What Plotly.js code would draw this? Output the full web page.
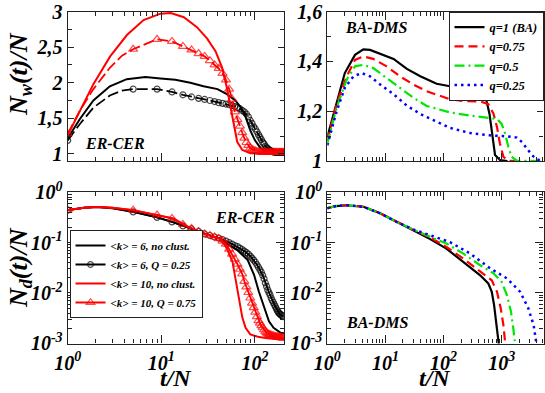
<!DOCTYPE html>
<html>
<head>
<meta charset="utf-8">
<script src="https://cdn.plot.ly/plotly-3.0.1.min.js"></script>
<style>
  html, body { margin: 0; padding: 0; background: #fff; }
  #grafico { width: 545px; height: 393px; }
</style>
</head>
<body>
<div id="grafico"></div>
<script>
// ---------------------------------------------------------------------
// DATOS (t/N en el eje x)
// ---------------------------------------------------------------------

// posiciones de los simbolos (circulos / triangulos) en ER-CER
const tMarcas = [1, 5, 9, 13, 17, 21, 25, 29, 33, 37, 41, 45, 49, 53, 57, 61, 65, 69, 73, 77,
  81, 85, 89, 93, 97, 101, 105, 109, 113, 117, 121, 125, 129, 133, 137, 141, 145, 149, 153, 157,
  161, 165, 169, 173, 177, 181, 185, 189, 193, 197, 201];

// --- Panel superior izquierdo: Nw(t)/N, ER-CER ---
const tNwSin6 = [1, 1.35, 1.88, 2.82, 4.27, 6.76, 9.77, 14.1, 20.4, 28.2, 39.8, 50.1, 61.7, 70.8, 79.4, 89.1, 100, 115, 129, 158, 204];
const nwSin6 = [1.22, 1.49, 1.75, 1.95, 2.05, 2.08, 2.06, 2.04, 2.0, 1.95, 1.91, 1.84, 1.75, 1.65, 1.52, 1.33, 1.19, 1.08, 1.03, 1.02, 1.02];

const tNwSin10 = [1, 1.88, 2.84, 4.29, 6.46, 9.77, 12.6, 17.4, 24.0, 30.9, 38.0, 44.7, 50.1, 55.0, 59.6, 64.6, 73.3, 89.1, 204];
const nwSin10 = [1.26, 1.98, 2.37, 2.67, 2.88, 2.97, 2.98, 2.92, 2.78, 2.62, 2.44, 2.21, 1.93, 1.65, 1.38, 1.17, 1.055, 1.01, 1.01];

const nwQ025 = [1.19, 1.91, 1.91, 1.87, 1.83, 1.80, 1.78, 1.765, 1.75, 1.735, 1.72, 1.71, 1.70, 1.69, 1.68, 1.665, 1.65, 1.635, 1.61, 1.59,
  1.56, 1.52, 1.47, 1.43, 1.38, 1.35, 1.31, 1.27, 1.235, 1.20, 1.165, 1.14, 1.11, 1.09, 1.075, 1.06, 1.05, 1.04, 1.033, 1.028,
  1.025, 1.022, 1.02, 1.02, 1.02, 1.02, 1.02, 1.02, 1.02, 1.02, 1.02];
const nwQ075 = [1.28, 2.47, 2.61, 2.58, 2.51, 2.46, 2.41, 2.37, 2.31, 2.25, 2.20, 2.13, 2.04, 1.91, 1.77, 1.59, 1.48, 1.39, 1.30, 1.22,
  1.16, 1.12, 1.08, 1.065, 1.05, 1.04, 1.035, 1.03, 1.028, 1.025, 1.02, 1.02, 1.02, 1.02, 1.02, 1.02, 1.02, 1.02, 1.02, 1.02,
  1.02, 1.02, 1.02, 1.02, 1.02, 1.02, 1.02, 1.02, 1.02, 1.02, 1.02];
// tramo inicial (entre t/N = 1 y 5) de las curvas con simbolos
const tIniNw = [1.35, 1.88, 2.82, 3.8];
const nwQ025Ini = [1.42, 1.65, 1.82, 1.89];
const nwQ075Ini = [1.61, 1.91, 2.21, 2.38];

// --- Panel superior derecho: Nw(t)/N, BA-DMS ---
const tBA = [1, 1.45, 2.0, 3.0, 4.17, 5.43, 8.13, 13.8, 23.4, 39.8, 75.9, 129, 219, 372, 484, 550, 617, 661, 708, 769, 933, 1259];
const nwBA = [1.096, 1.24, 1.353, 1.426, 1.448, 1.446, 1.43, 1.41, 1.37, 1.34, 1.31, 1.30, 1.294, 1.288, 1.274, 1.24, 1.19, 1.136, 1.07, 1.024, 1.004, 1.0];
const t075 = [1, 1.45, 2.16, 3.0, 4.17, 6.17, 10.5, 17.8, 30.2, 51.3, 81.3, 129, 219, 427, 589, 724, 832, 933, 1072, 1303, 2000];
const nw075 = [1.08, 1.23, 1.34, 1.406, 1.42, 1.41, 1.38, 1.34, 1.307, 1.28, 1.264, 1.248, 1.241, 1.239, 1.228, 1.19, 1.136, 1.07, 1.017, 1.001, 1.0];
const t05 = [1, 1.45, 2.16, 3.0, 4.17, 6.17, 10.5, 17.8, 30.2, 51.3, 81.3, 129, 288, 550, 832, 1000, 1148, 1303, 1479, 1820, 5000];
const nw05 = [1.07, 1.215, 1.327, 1.38, 1.386, 1.373, 1.333, 1.294, 1.254, 1.221, 1.208, 1.195, 1.182, 1.175, 1.169, 1.149, 1.11, 1.057, 1.017, 1.001, 1.0];
const t025 = [1, 1.45, 2.0, 2.82, 3.89, 5.43, 8.13, 13.8, 23.4, 39.8, 81.3, 129, 288, 631, 1230, 1820, 2239, 2692, 3311, 3981, 4898];
const nw025 = [1.063, 1.20, 1.294, 1.34, 1.353, 1.34, 1.307, 1.268, 1.222, 1.189, 1.155, 1.133, 1.112, 1.103, 1.099, 1.094, 1.076, 1.05, 1.024, 1.007, 1.001];

// --- Panel inferior izquierdo: Nd(t)/N, ER-CER ---
const tNdSin6 = [1, 1.5, 2.04, 3, 5, 9, 13.5, 18.8, 28.2, 42.7, 50.1, 64.6, 83.2, 97.7, 110, 126, 141, 158, 188, 204];
const ndSin6 = [0.44, 0.49, 0.51, 0.48, 0.407, 0.316, 0.251, 0.204, 0.151, 0.12, 0.0955, 0.0708, 0.0457, 0.0229, 0.0107, 0.00501, 0.00275, 0.00204, 0.00162, 0.00158];
const tNdSin10 = [1, 1.5, 2.04, 3, 5, 9, 13.5, 18.8, 28.2, 42.7, 50.1, 57.5, 61.7, 67.6, 73.3, 79.4, 89.1, 107, 135, 204];
const ndSin10 = [0.44, 0.49, 0.51, 0.49, 0.44, 0.351, 0.30, 0.21, 0.152, 0.12, 0.0767, 0.0417, 0.02, 0.00794, 0.00324, 0.00204, 0.00151, 0.00135, 0.00126, 0.0012];

const ndQ025 = [0.44, 0.407, 0.316, 0.257, 0.214, 0.186, 0.166, 0.148, 0.138, 0.129, 0.123, 0.115, 0.107, 0.1, 0.0933, 0.0871, 0.0832, 0.0776, 0.0724, 0.0676,
  0.0631, 0.0589, 0.0537, 0.049, 0.0447, 0.0407, 0.0363, 0.0324, 0.0288, 0.0257, 0.0224, 0.0191, 0.0158, 0.0135, 0.0115, 0.0102, 0.00912, 0.00794, 0.00708, 0.00646,
  0.00589, 0.00537, 0.0049, 0.00447, 0.00417, 0.00398, 0.0038, 0.00372, 0.00355, 0.00347, 0.00339];
const ndQ075 = [0.44, 0.44, 0.351, 0.302, 0.229, 0.191, 0.166, 0.148, 0.138, 0.129, 0.120, 0.107, 0.0933, 0.0741, 0.0589, 0.0468, 0.0372, 0.0295, 0.024, 0.017,
  0.0132, 0.0102, 0.00794, 0.00631, 0.00513, 0.00417, 0.00339, 0.00282, 0.00251, 0.00224, 0.00204, 0.00186, 0.0017, 0.00162, 0.00155, 0.00151, 0.00148, 0.00145, 0.00141, 0.0014,
  0.00138, 0.00136, 0.00135, 0.00135, 0.00133, 0.00132, 0.00132, 0.0013, 0.0013, 0.00129, 0.00129];
const tIniNd = [1.5, 2.04, 3];
const ndQ025Ini = [0.49, 0.51, 0.48];
const ndQ075Ini = [0.49, 0.51, 0.49];

// --- Panel inferior derecho: Nd(t)/N, BA-DMS ---
const tNdBA = [1, 1.41, 2.16, 4.17, 8.13, 15.5, 30.2, 58.9, 112, 219, 427, 589, 676, 741, 794, 851, 891, 912];
const ndBA = [0.479, 0.53, 0.55, 0.513, 0.38, 0.257, 0.176, 0.117, 0.0759, 0.0417, 0.0224, 0.0155, 0.0105, 0.00575, 0.00309, 0.0017, 0.00107, 0.00079];
const tNd075 = [1, 1.41, 2.16, 4.17, 8.13, 15.5, 30.2, 58.9, 112, 219, 427, 676, 832, 966, 1072, 1148, 1175];
const nd075 = [0.479, 0.53, 0.55, 0.513, 0.38, 0.257, 0.178, 0.126, 0.0822, 0.0479, 0.0269, 0.0178, 0.0105, 0.0049, 0.00229, 0.00107, 0.00079];
const tNd05 = [1, 1.41, 2.16, 4.17, 8.13, 15.5, 30.2, 58.9, 112, 219, 427, 724, 1000, 1230, 1445, 1585, 1698, 1738];
const nd05 = [0.479, 0.53, 0.55, 0.513, 0.38, 0.257, 0.18, 0.132, 0.0955, 0.0603, 0.0355, 0.0245, 0.0166, 0.00912, 0.00427, 0.002, 0.00107, 0.00079];
const tNd025 = [1, 1.41, 2.16, 4.17, 8.13, 15.5, 30.2, 58.9, 129, 288, 631, 1230, 2089, 2884, 3548, 3890, 3981];
const nd025 = [0.479, 0.53, 0.55, 0.513, 0.38, 0.257, 0.182, 0.141, 0.102, 0.0603, 0.0309, 0.0195, 0.0105, 0.0049, 0.00229, 0.00115, 0.00079];

// etiquetas de ejes y leyendas
const ticksTIzq = [1, 10, 100];
const textosTIzq = ["10<sup>0</sup>", "10<sup>1</sup>", "10<sup>2</sup>"];
const ticksTDer = [1, 10, 100, 1000];
const textosTDer = ["10<sup>0</sup>", "10<sup>1</sup>", "10<sup>2</sup>", "10<sup>3</sup>"];
const ticksNd = [0.001, 0.01, 0.1, 1];
const textosNd = ["10<sup>-3</sup>", "10<sup>-2</sup>", "10<sup>-1</sup>", "10<sup>0</sup>"];
const nombresER = ["&lt;k&gt; = 6, no clust.", "&lt;k&gt; = 6, Q = 0.25", "&lt;k&gt; = 10, no clust.", "&lt;k&gt; = 10, Q = 0.75"];
const nombresBA = ["q=1 (BA)", "q=0.75", "q=0.5", "q=0.25"];

// ---------------------------------------------------------------------
// ESTILO
// ---------------------------------------------------------------------
const FAMILIA = "Liberation Serif, Times New Roman, DejaVu Serif, serif";
function fuente(tam) {
  return { family: FAMILIA, size: tam, color: "#000", weight: "bold", style: "italic" };
}

const ROJO = "#ff0000";
const VERDE = "#00e600";
const AZUL = "#0000ff";
const NEGRO = "#000000";

const DOM_X_IZQ = [67.7 / 545, 284 / 545];
const DOM_X_DER = [327.3 / 545, 543.5 / 545];
const DOM_Y_SUP = [1 - 161 / 393, 1 - 11.5 / 393];
const DOM_Y_INF = [1 - 343.5 / 393, 1 - 192 / 393];

const ejeBase = {
  showline: true, linecolor: "#222", linewidth: 1.3, mirror: "ticks",
  ticks: "inside", ticklen: 8, tickwidth: 1.2, tickcolor: "#222",
  showgrid: false, zeroline: false, tickfont: fuente(20),
  ticklabeloverflow: "allow",
};
const menorLog = { ticks: "inside", ticklen: 4, tickwidth: 1, tickcolor: "#222", dtick: "D1", showgrid: false };

// une el tramo inicial con las posiciones de simbolos; tamano 0 donde no hay simbolo
function conMarcas(yMarcas, tIni, yIni, tam) {
  return {
    x: [tMarcas[0], ...tIni, ...tMarcas.slice(1)],
    y: [yMarcas[0], ...yIni, ...yMarcas.slice(1)],
    tam: [tam, ...tIni.map(() => 0), ...tMarcas.slice(1).map(() => tam)],
  };
}

// ---------------------------------------------------------------------
// TRAZAS
// ---------------------------------------------------------------------
function linea(x, y, ejes, color, dash, ancho, extra) {
  return Object.assign({
    x, y, xaxis: ejes[0], yaxis: ejes[1], type: "scatter", mode: "lines",
    line: { color, dash, width: ancho }, showlegend: false, hoverinfo: "skip",
  }, extra || {});
}

function conSimbolos(datos, ejes, color, dash, simbolo, extra) {
  return Object.assign({
    x: datos.x, y: datos.y, xaxis: ejes[0], yaxis: ejes[1], type: "scatter", mode: "lines+markers",
    line: { color, dash, width: 1.8 },
    marker: { symbol: simbolo, size: datos.tam, color, line: { color, width: 1.2 } },
    showlegend: false, hoverinfo: "skip",
  }, extra || {});
}

const SUP_IZQ = ["x", "y"], SUP_DER = ["x2", "y2"], INF_IZQ = ["x3", "y3"], INF_DER = ["x4", "y4"];
const DASH_Q = "11px,4px";

const trazas = [
  // superior izquierdo
  linea(tNwSin6, nwSin6, SUP_IZQ, NEGRO, "solid", 2),
  conSimbolos(conMarcas(nwQ025, tIniNw, nwQ025Ini, 6), SUP_IZQ, NEGRO, DASH_Q, "circle-open"),
  linea(tNwSin10, nwSin10, SUP_IZQ, ROJO, "solid", 2),
  conSimbolos(conMarcas(nwQ075, tIniNw, nwQ075Ini, 8), SUP_IZQ, ROJO, DASH_Q, "triangle-up-open"),

  // superior derecho (leyenda BA-DMS)
  linea(tBA, nwBA, SUP_DER, NEGRO, "solid", 2.2, { showlegend: true, legend: "legend2", name: nombresBA[0] }),
  linea(t075, nw075, SUP_DER, ROJO, "9px,5px", 2.2, { showlegend: true, legend: "legend2", name: nombresBA[1] }),
  linea(t05, nw05, SUP_DER, VERDE, "10px,4px,2px,4px", 2.2, { showlegend: true, legend: "legend2", name: nombresBA[2] }),
  linea(t025, nw025, SUP_DER, AZUL, "2.5px,4px", 2.5, { showlegend: true, legend: "legend2", name: nombresBA[3] }),

  // inferior izquierdo (leyenda ER-CER)
  linea(tNdSin6, ndSin6, INF_IZQ, NEGRO, "solid", 2, { showlegend: true, name: nombresER[0] }),
  conSimbolos(conMarcas(ndQ025, tIniNd, ndQ025Ini, 6), INF_IZQ, NEGRO, "solid", "circle-open", { showlegend: true, name: nombresER[1] }),
  linea(tNdSin10, ndSin10, INF_IZQ, ROJO, "solid", 2, { showlegend: true, name: nombresER[2] }),
  conSimbolos(conMarcas(ndQ075, tIniNd, ndQ075Ini, 8), INF_IZQ, ROJO, "solid", "triangle-up-open", { showlegend: true, name: nombresER[3] }),

  // inferior derecho
  linea(tNdBA, ndBA, INF_DER, NEGRO, "solid", 2.2),
  linea(tNd075, nd075, INF_DER, ROJO, "9px,5px", 2.2),
  linea(tNd05, nd05, INF_DER, VERDE, "10px,4px,2px,4px", 2.2),
  linea(tNd025, nd025, INF_DER, AZUL, "2.5px,4px", 2.5),
];

// ---------------------------------------------------------------------
// LAYOUT
// ---------------------------------------------------------------------
function anotacion(texto, x, y, tam, angulo, anclaY) {
  return { text: texto, x, y, xref: "paper", yref: "paper", showarrow: false,
    xanchor: "center", yanchor: anclaY || "middle", textangle: angulo || 0, font: fuente(tam) };
}

const cajaLeyenda = { bgcolor: "#fff", bordercolor: "#222", borderwidth: 1, tracegroupgap: 0 };

const layout = {
  width: 545, height: 393,
  margin: { l: 0, r: 0, t: 0, b: 0 },
  paper_bgcolor: "#fff", plot_bgcolor: "#fff",
  separators: ",.",
  xaxis: { ...ejeBase, type: "log", domain: DOM_X_IZQ, range: [0, 2.31], anchor: "y",
    tickmode: "array", tickvals: ticksTIzq, showticklabels: false, minor: menorLog },
  yaxis: { ...ejeBase, domain: DOM_Y_SUP, range: [0.9, 3.0005], anchor: "x",
    tickmode: "linear", tick0: 1, dtick: 0.5, ticklen: 6,
    minor: { ticks: "inside", ticklen: 4, tickwidth: 1, tickcolor: "#222", dtick: 0.25, showgrid: false } },
  xaxis2: { ...ejeBase, type: "log", domain: DOM_X_DER, range: [0, 3.72], anchor: "y2",
    tickmode: "array", tickvals: ticksTDer, showticklabels: false, minor: menorLog },
  yaxis2: { ...ejeBase, domain: DOM_Y_SUP, range: [1, 1.6002], anchor: "x2",
    tickmode: "linear", tick0: 1, dtick: 0.2, ticklen: 6,
    minor: { ticks: "inside", ticklen: 4, tickwidth: 1, tickcolor: "#222", dtick: 0.1, showgrid: false } },
  xaxis3: { ...ejeBase, type: "log", domain: DOM_X_IZQ, range: [0, 2.31], anchor: "y3",
    tickmode: "array", tickvals: ticksTIzq, ticktext: textosTIzq, ticklabelstandoff: 1, minor: menorLog },
  yaxis3: { ...ejeBase, type: "log", domain: DOM_Y_INF, range: [-3.003, 0.003], anchor: "x3",
    tickmode: "array", tickvals: ticksNd, ticktext: textosNd, minor: menorLog },
  xaxis4: { ...ejeBase, type: "log", domain: DOM_X_DER, range: [0, 3.72], anchor: "y4",
    tickmode: "array", tickvals: ticksTDer, ticktext: textosTDer, ticklabelstandoff: 1, minor: menorLog },
  yaxis4: { ...ejeBase, type: "log", domain: DOM_Y_INF, range: [-3.003, 0.003], anchor: "x4",
    tickmode: "array", tickvals: ticksNd, ticktext: textosNd, minor: menorLog },
  legend: { ...cajaLeyenda, x: 69.5 / 545, xanchor: "left", y: 1 - 274 / 393, yanchor: "middle", font: fuente(11) },
  legend2: { ...cajaLeyenda, x: 543.5 / 545, xanchor: "right", y: 1 - 11.5 / 393, yanchor: "top", font: fuente(12.5) },
  annotations: [
    anotacion("N<sub>w</sub>(t)/N", 20 / 545, 1 - 74 / 393, 26, -90),
    anotacion("N<sub>d</sub>(t)/N", 20 / 545, 1 - 268 / 393, 26, -90),
    anotacion("t/N", 176 / 545, 0, 24, 0, "bottom"),
    anotacion("t/N", 435 / 545, 0, 24, 0, "bottom"),
    anotacion("ER-CER", 115 / 545, 1 - 143 / 393, 16),
    anotacion("BA-DMS", 376 / 545, 1 - 27 / 393, 16),
    anotacion("ER-CER", 245 / 545, 1 - 217 / 393, 16),
    anotacion("BA-DMS", 377 / 545, 1 - 322 / 393, 16),
  ],
};

Plotly.newPlot("grafico", trazas, layout, { displayModeBar: false, responsive: false });
</script>
</body>
</html>
